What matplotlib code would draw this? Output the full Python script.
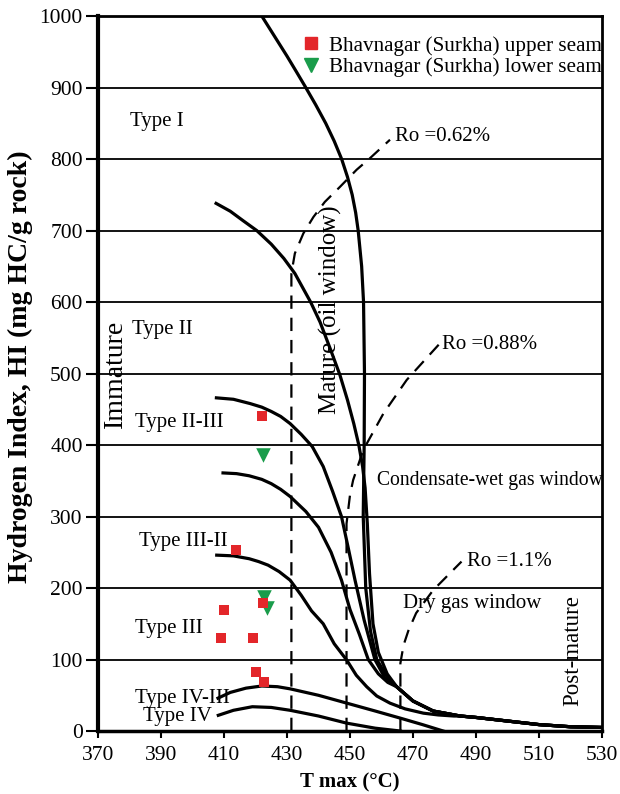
import numpy as np
import matplotlib
matplotlib.use("Agg")
import matplotlib.pyplot as plt
from matplotlib.lines import Line2D

plt.rcParams['font.family'] = ['Liberation Serif', 'DejaVu Serif']

# shared tail of the kerogen-type curves
tail_T = [464.8, 470, 476.4, 485, 490, 500, 510, 520, 530]
tail_HI = [62, 42, 28, 21, 19, 14, 9, 6, 5]

# Type I
typeI_T = [422.0, 426, 430, 433, 435.7, 439.1, 442.3, 445, 447.35, 449.2, 450.7, 451.8, 452.6,
           453.7, 454.3, 454.6, 454.5, 454.2, 455.0, 456.5, 458.5, 461.5]
typeI_HI = [1000, 972, 944, 922, 902, 876, 850, 825, 800, 775, 750, 725, 700,
            650, 600, 500, 400, 300, 200, 140, 100, 78]
# Type II
typeII_T = [407.5, 412, 416, 420.4, 425, 429, 432.5, 437.5, 440.5, 443.7, 446.8, 449.2,
            451.2, 452.8, 454, 454.8, 455.5, 456.2, 457.3, 459, 461.8]
typeII_HI = [738, 727, 714, 700, 681, 661, 640, 600, 572, 535, 498, 463,
             430, 400, 370, 340, 290, 220, 150, 110, 80]
# Type II-III
typeIIIII_T = [407.6, 413, 418.3, 422, 425, 428, 431, 434.5, 438, 441.5, 444.5, 447.3, 449.5,
               451.6, 454.5, 457.9, 461]
typeIIIII_HI = [466, 464, 458, 453, 447, 440, 430, 415, 398, 370, 335, 300, 255,
                211, 155, 100, 75]
# unnamed curve between II-III and III-II
curveD_T = [409.7, 414, 418, 422, 425, 428, 431, 436, 440, 444, 447.3, 450, 453, 455.8, 459, 462]
curveD_HI = [361, 360, 357, 352, 346, 338, 328, 307, 285, 250, 211, 170, 135, 100, 80, 68]
# Type III-II
typeIIIII2_T = [407.7, 413, 418, 421, 424, 427.5, 431, 434.5, 437.8, 441.5, 445, 449, 452,
                455.3, 458.5, 462.7, 467.5, 473.3, 478, 483]
typeIIIII2_HI = [246, 245, 241, 237, 232, 223, 211, 190, 168, 150, 122, 99, 78,
                 62, 49, 39, 31, 25, 22.5, 21]
# Type IV-III
typeIVIII_T = [408.1, 412, 417, 422, 427, 431, 440, 449, 458, 466, 473, 479.6]
typeIVIII_HI = [46, 54, 60, 63, 62, 59, 50, 39, 28, 18, 9, 0]
# Type IV
typeIV_T = [408.2, 413, 419, 425, 431, 440, 449, 458, 466]
typeIV_HI = [22, 29, 34, 33, 29, 21, 11, 4, 0]

# vitrinite reflectance iso-lines
ro062_T = [431.4, 431.4, 432.5, 435.2, 438.4, 442, 446.8, 452.1, 456.3, 462.7]
ro062_HI = [0, 640, 668, 696, 719, 740, 761, 785, 801, 827]
ro088_T = [448.9, 448.9, 450, 451, 454.2, 460.6, 468, 478.5]
ro088_HI = [0, 290, 330, 351, 393, 444, 491, 542]
ro11_T = [466, 466, 467, 468.5, 471, 476.4, 485.4]
ro11_HI = [0, 95, 120, 140, 165, 197, 237]

# samples
upper_T = [422.2, 413.8, 410.1, 409.0, 419.3, 420.2, 422.7, 422.5]
upper_HI = [441, 253, 169, 130, 130, 82, 68, 179]
lower_T = [422.3, 422.7, 423.5]
lower_HI = [386, 187, 172]

fig = plt.figure(figsize=(6.2, 7.94), dpi=100)
ax = fig.add_axes([0.158, 0.0793, 0.813, 0.9005])

for yv in range(100, 1000, 100):
    ax.axhline(yv, color='black', lw=1.3, zorder=1)

curves = [(typeI_T, typeI_HI), (typeII_T, typeII_HI), (typeIIIII_T, typeIIIII_HI),
          (curveD_T, curveD_HI)]
for t, h in curves:
    ax.plot(t + tail_T, h + tail_HI, color='black', lw=2.3, zorder=3)
ax.plot(typeIIIII2_T + tail_T[3:], typeIIIII2_HI + tail_HI[3:], color='black', lw=2.3, zorder=3)
ax.plot(typeIVIII_T, typeIVIII_HI, color='black', lw=2.3, zorder=3)
ax.plot(typeIV_T, typeIV_HI, color='black', lw=2.3, zorder=3)

for t, h in [(ro062_T, ro062_HI), (ro088_T, ro088_HI), (ro11_T, ro11_HI)]:
    ax.plot(t, h, color='black', lw=1.6, dashes=(6, 4), zorder=2)

ax.scatter(upper_T, upper_HI, marker='s', s=60, color='#e3262a', zorder=5, linewidths=0)
ax.scatter(lower_T, lower_HI, marker='v', s=110, color='#1a9c4b', zorder=4, linewidths=0)

handles = [Line2D([], [], marker='s', color='#e3262a', ls='none', markersize=8),
           Line2D([], [], marker='v', color='#1a9c4b', ls='none', markersize=10)]
ax.legend(handles, ['Bhavnagar (Surkha) upper seam', 'Bhavnagar (Surkha) lower seam'],
          loc='upper right', bbox_to_anchor=(1.030, 0.993), frameon=False,
          fontsize=15.2, handlelength=1.0, handletextpad=0.35, labelspacing=0.1,
          borderpad=0.2)

fs = 15
ax.text(380.2, 852, 'Type I', fontsize=fs, va='center')
ax.text(380.8, 561, 'Type II', fontsize=fs, va='center')
ax.text(381.7, 432, 'Type II-III', fontsize=fs, va='center')
ax.text(383.1, 265, 'Type III-II', fontsize=fs, va='center')
ax.text(381.7, 143, 'Type III', fontsize=fs, va='center')
ax.text(381.7, 46, 'Type IV-III', fontsize=fs, va='center')
ax.text(384.4, 20, 'Type IV', fontsize=fs, va='center')
ax.text(375.4, 499, 'Immature', fontsize=20, rotation=90, ha='center', va='center')
ax.text(443.7, 590, 'Mature (oil window)', fontsize=18, rotation=90, ha='center', va='center')
ax.text(520.8, 112, 'Post-mature', fontsize=16.5, rotation=90, ha='center', va='center')
ax.text(464.3, 831, 'Ro =0.62%', fontsize=fs, va='center')
ax.text(479.2, 540, 'Ro =0.88%', fontsize=fs, va='center')
ax.text(487.0, 237, 'Ro =1.1%', fontsize=fs, va='center')
ax.text(458.5, 351, 'Condensate-wet gas window', fontsize=14.1, va='center')
ax.text(466.9, 179, 'Dry gas window', fontsize=fs, va='center')

ax.set_xlim(370, 530)
ax.set_ylim(0, 1000)
ax.set_xticks(range(370, 531, 20))
ax.set_yticks(range(0, 1001, 100))
ax.tick_params(direction='out', width=1.5, labelsize=15.5)
ax.tick_params(axis='x', length=5, pad=6)
ax.tick_params(axis='y', length=9, pad=2)
ax.set_xlabel('T max (°C)', fontsize=15, fontweight='bold', labelpad=5)
ax.set_ylabel('Hydrogen Index, HI (mg HC/g rock)', fontsize=20, fontweight='bold')
ax.yaxis.set_label_coords(-0.129, 0.51)
for side, w in [('left', 3), ('bottom', 2.5), ('right', 2), ('top', 2)]:
    ax.spines[side].set_linewidth(w)

fig.savefig('out.png', dpi=100)
